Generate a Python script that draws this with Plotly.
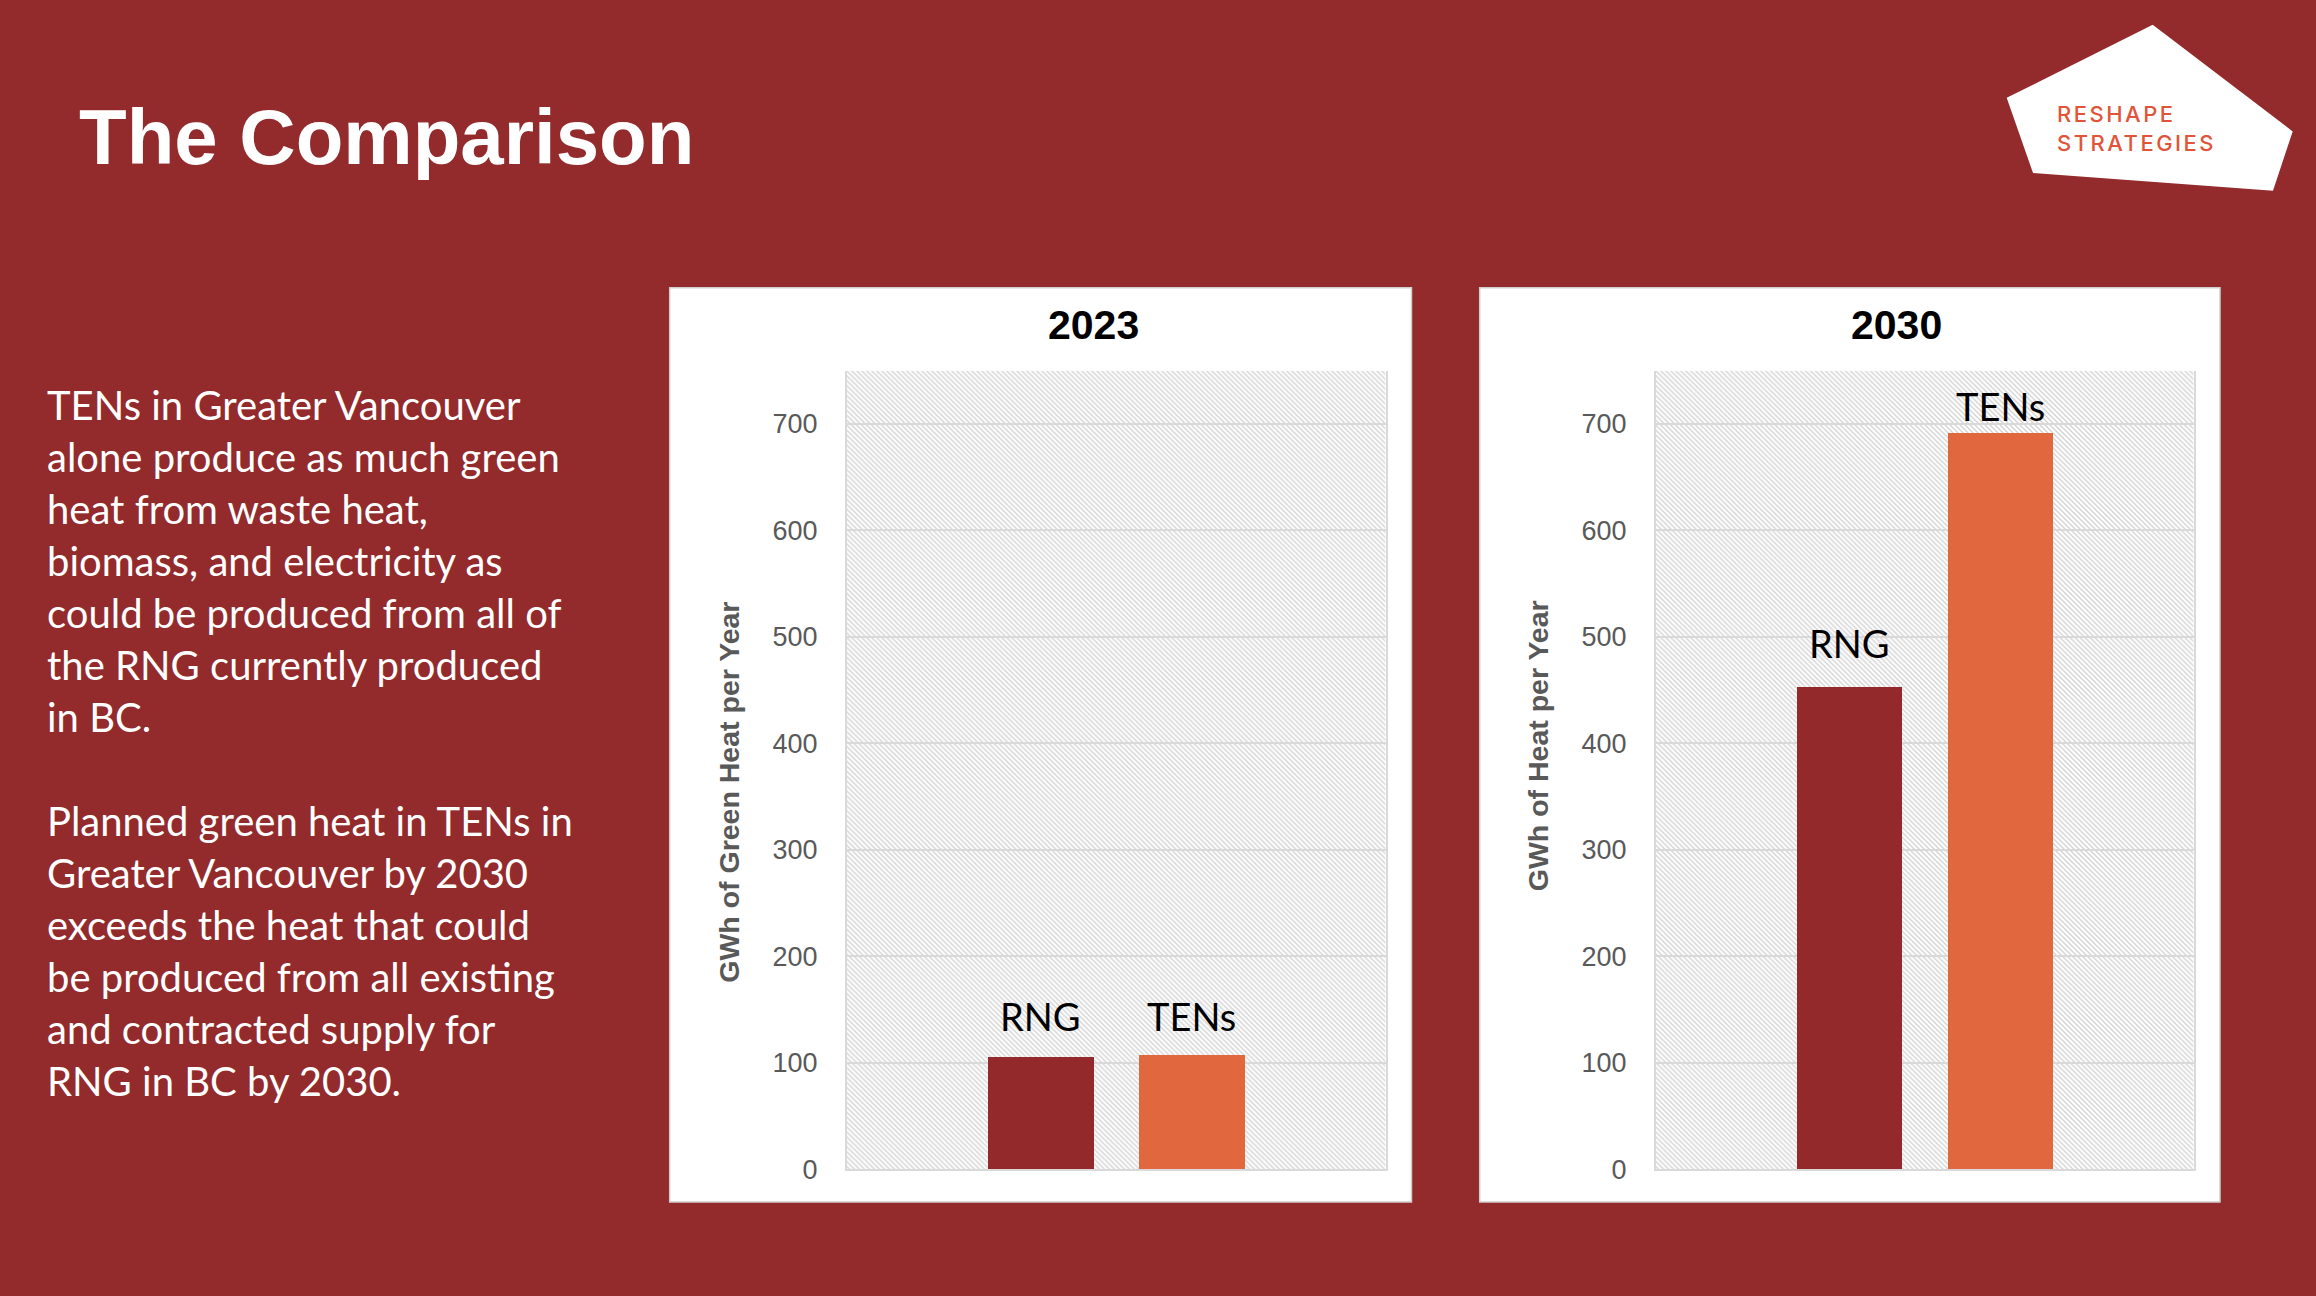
import base64
import plotly.graph_objects as go

# ---------------- data ----------------
CATEGORIES = ["RNG", "TENs"]
PANEL_YEARS = ["2023", "2030"]
VALUES_2023 = [106, 108]
VALUES_2030 = [453, 692]
Y_TICKS = [0, 100, 200, 300, 400, 500, 600, 700]
Y_TITLES = ["GWh of Green Heat per Year", "GWh of Heat per Year"]
TITLE = "The Comparison"
BODY_P1 = [
    "TENs in Greater Vancouver",
    "alone produce as much green",
    "heat from waste heat,",
    "biomass, and electricity as",
    "could be produced from all of",
    "the RNG currently produced",
    "in BC.",
]
BODY_P2 = [
    "Planned green heat in TENs in",
    "Greater Vancouver by 2030",
    "exceeds the heat that could",
    "be produced from all existing",
    "and contracted supply for",
    "RNG in BC by 2030.",
]
LOGO_LINES = ["RESHAPE", "STRATEGIES"]

# ---------------- style ----------------
W, H = 2316, 1296
BG = "#932A2C"
BAR_COLORS = ["#93292B", "#E0673E"]
GRID = "#d9d9d9"
TICK_COLOR = "#595959"
LABEL_SHIFTS = [[40, 38], [44, 26]]


def px(x):
    return x / W


def py(y):
    return 1 - y / H


# hatched plot-area background (SVG pattern)
PW, PH = 539, 808
S = 5
svg = (
    f'<svg xmlns="http://www.w3.org/2000/svg" width="{PW}" height="{PH}" viewBox="0 0 {PW} {PH}">'
    f'<defs><pattern id="h" width="{S}" height="{S}" patternUnits="userSpaceOnUse">'
    f'<rect width="{S}" height="{S}" fill="#ffffff"/>'
    f'<path d="M0,0 L{S},{S} M{S-1},-1 L{S+1},1 M-1,{S-1} L1,{S+1}" stroke="#d0d0d0" stroke-width="1.25"/>'
    f'</pattern></defs><rect width="{PW}" height="{PH}" fill="url(#h)"/></svg>'
)
HATCH = "data:image/svg+xml;base64," + base64.b64encode(svg.encode()).decode()

fig = go.Figure()

panels = [
    dict(vals=VALUES_2023, xa="x", ya="y", dom=(846.6, 1385.6), box=(669.7, 1411.5),
         title_x=1093, ytitle_x=729, ytitle_y=802),
    dict(vals=VALUES_2030, xa="x2", ya="y2", dom=(1655.7, 2193.7), box=(1479.7, 2220),
         title_x=1896, ytitle_x=1538, ytitle_y=755),
]

shapes = []
annotations = []
images = []
for i, p in enumerate(panels):
    fig.add_trace(go.Bar(
        x=CATEGORIES, y=p["vals"], xaxis=p["xa"], yaxis=p["ya"],
        marker=dict(color=BAR_COLORS, line=dict(width=0)), width=0.7,
        showlegend=False, hoverinfo="skip",
    ))
    shapes.append(dict(type="rect", xref="paper", yref="paper", layer="below",
                       x0=px(p["box"][0]), x1=px(p["box"][1]), y0=py(1216), y1=py(291),
                       fillcolor="white", line=dict(color="#cfcfcf", width=1.5)))
    images.append(dict(source=HATCH, xref=f"{p['xa']} domain", yref=f"{p['ya']} domain",
                       x=0, y=1, sizex=1, sizey=1, xanchor="left", yanchor="top",
                       sizing="stretch", layer="below"))
    annotations.append(dict(text=f"<b>{PANEL_YEARS[i]}</b>", xref="paper", yref="paper",
                            x=px(p["title_x"]), y=py(328.7), xanchor="center", yanchor="middle",
                            showarrow=False,
                            font=dict(family="Liberation Sans, Arial", size=41, color="black")))
    annotations.append(dict(text=f"<b>{Y_TITLES[i]}</b>", xref="paper", yref="paper",
                            x=px(p["ytitle_x"]), y=py(p["ytitle_y"]), textangle=-90,
                            xanchor="center", yanchor="middle", showarrow=False,
                            font=dict(family="Liberation Sans, Arial", size=28.5, color=TICK_COLOR)))
    for j, (cat, v) in enumerate(zip(CATEGORIES, p["vals"])):
        annotations.append(dict(text=cat, xref=p["xa"], yref=p["ya"], x=cat, y=v,
                                yshift=LABEL_SHIFTS[i][j], xanchor="center", yanchor="middle",
                                showarrow=False,
                                font=dict(family="Lato", size=38, color="black")))

# title
annotations.append(dict(text=f"<b>{TITLE}</b>", xref="paper", yref="paper",
                        x=px(77), y=py(138.7), xanchor="left", yanchor="middle",
                        showarrow=False,
                        font=dict(family="Liberation Sans, Arial", size=78, color="white")))
# body text
body = "<br>".join(BODY_P1) + "<br><br>" + "<br>".join(BODY_P2)
annotations.append(dict(text=body, xref="paper", yref="paper", x=px(45), y=py(752),
                        xanchor="left", yanchor="middle", align="left", showarrow=False,
                        font=dict(family="Lato", size=40, color="white")))
# logo
logo_pts = [(2152.7, 25), (2292.7, 133), (2273, 193), (2033, 175), (2006.7, 99)]
path = "M " + " L ".join(f"{px(x):.5f},{py(y):.5f}" for x, y in logo_pts) + " Z"
shapes.append(dict(type="path", xref="paper", yref="paper", path=path,
                   fillcolor="white", line=dict(width=0), layer="below"))
logo_text = "<br>".join(f'<span style="letter-spacing:2.5px">{t}</span>' for t in LOGO_LINES)
annotations.append(dict(text=logo_text, xref="paper", yref="paper",
                        x=px(2055), y=py(130), xanchor="left", yanchor="middle",
                        align="left", showarrow=False,
                        font=dict(family="Inter", size=22, weight=500, color="#E0553A")))

xaxis_common = dict(type="category", range=[-1.2857, 2.2857], showticklabels=False,
                    showgrid=False, zeroline=False, showline=True, linecolor=GRID,
                    linewidth=1.5, ticks="", fixedrange=True)
yaxis_common = dict(range=[0, 750], tickvals=Y_TICKS, showgrid=True, gridcolor=GRID,
                    gridwidth=1.5, zeroline=False, showline=True, mirror=True,
                    linecolor=GRID, linewidth=1.5, ticks="", ticklabelstandoff=22,
                    tickfont=dict(family="Liberation Sans, Arial", size=27, color=TICK_COLOR),
                    fixedrange=True)
ydom = [py(1183), py(375)]

fig.update_layout(
    width=W, height=H,
    margin=dict(l=0, r=0, t=0, b=0),
    paper_bgcolor=BG, plot_bgcolor="rgba(0,0,0,0)",
    xaxis=dict(domain=[px(panels[0]["dom"][0]), px(panels[0]["dom"][1])], anchor="y", **xaxis_common),
    xaxis2=dict(domain=[px(panels[1]["dom"][0]), px(panels[1]["dom"][1])], anchor="y2", **xaxis_common),
    yaxis=dict(domain=ydom, anchor="x", **yaxis_common),
    yaxis2=dict(domain=ydom, anchor="x2", **yaxis_common),
    shapes=shapes, annotations=annotations, images=images,
    bargap=0, showlegend=False,
)

fig.write_html("out.html", config={"displayModeBar": False},
               post_script="document.body.style.margin='0';document.body.style.overflow='hidden';")
